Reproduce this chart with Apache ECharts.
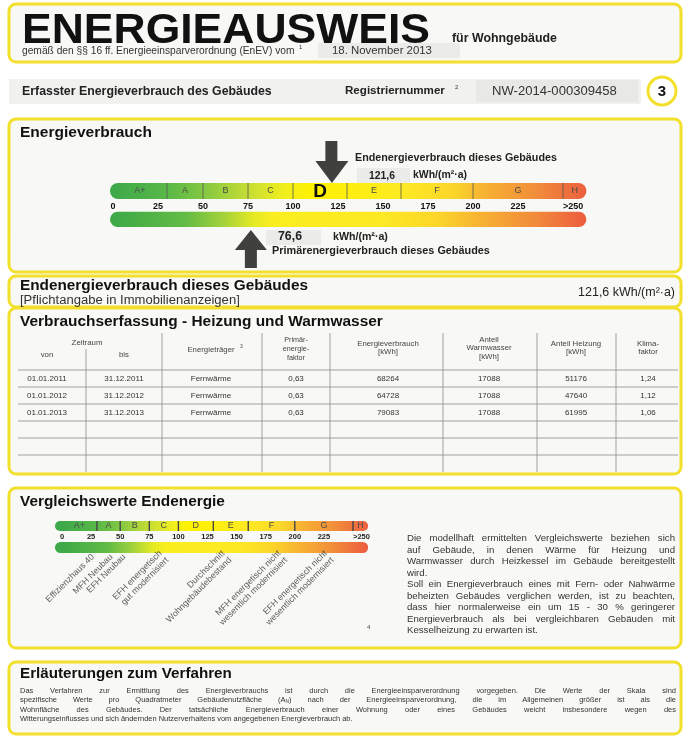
<!DOCTYPE html>
<html>
<head>
<meta charset="utf-8">
<script src="https://cdn.jsdelivr.net/npm/echarts@6/dist/echarts.min.js"></script>
<style>
html, body { margin: 0; padding: 0; background: #fff; }
#main { width: 685px; height: 742px; }
</style>
</head>
<body>
<div id="main"></div>
<script>
// Energieklassen und Skala
var klassen = ['A+', 'A', 'B', 'C', 'D', 'E', 'F', 'G', 'H'];
var klassenGrenzen = [0, 30, 50, 75, 100, 130, 160, 200, 250, 263];
var skalaTicks = [0, 25, 50, 75, 100, 125, 150, 175, 200, 225, 250];
var skalaBeschriftung = ['0', '25', '50', '75', '100', '125', '150', '175', '200', '225', '>250'];

// Kennwerte dieses Gebäudes
var endenergie = 121.6;
var primaerenergie = 76.6;

// Vergleichswerte Endenergie
var vergleichsNamen = [
    'Effizienzhaus 40',
    'MFH Neubau',
    'EFH Neubau',
    'EFH energetisch\ngut modernisiert',
    'Durchschnitt\nWohngebäudebestand',
    'MFH energetisch nicht\nwesentlich modernisiert',
    'EFH energetisch nicht\nwesentlich modernisiert'
];
var vergleichsWerte = [27, 43, 54, 88, 142, 190, 230];

// Verbrauchserfassung
var zeitraumVon = ['01.01.2011', '01.01.2012', '01.01.2013'];
var zeitraumBis = ['31.12.2011', '31.12.2012', '31.12.2013'];
var energietraeger = ['Fernwärme', 'Fernwärme', 'Fernwärme'];
var primaerFaktor = [0.63, 0.63, 0.63];
var verbrauchKWh = [68264, 64728, 79083];
var warmwasserKWh = [17088, 17088, 17088];
var heizungKWh = [51176, 47640, 61995];
var klimaFaktor = [1.24, 1.12, 1.06];

var FONT = '"Liberation Sans", Arial, sans-serif';
var GELB = '#f2e02c';

// Farbverlauf der Skala (Wert, Farbe)
var farbenOben = [[0, '#3ea94a'], [30, '#58b847'], [50, '#82c742'], [75, '#c6dd34'], [95, '#f0ee1e'],
    [110, '#fff200'], [160, '#fdea22'], [190, '#fbd52a'], [205, '#f7b432'], [235, '#f18d3a'], [263, '#ec5f3f']];
var farbenUnten = [[0, '#3da948'], [40, '#62bb45'], [60, '#9fd03c'], [78, '#e4ea24'], [90, '#fbee1e'],
    [150, '#fde924'], [180, '#fcd629'], [205, '#f7b133'], [235, '#f18a3b'], [263, '#ec5c3f']];

var aktiveKlasse = 0;
for (var k = 0; k < klassen.length; k++) {
    if (endenergie >= klassenGrenzen[k] && endenergie < klassenGrenzen[k + 1]) aktiveKlasse = k;
}

function komma(v, n) { return v.toFixed(n).replace('.', ','); }

// Textbreite messen
var mess = document.createElement('canvas').getContext('2d');
function breite(text, size, weight) {
    mess.font = (weight || 'normal') + ' ' + size + 'px ' + FONT;
    return mess.measureText(text).width;
}
function passend(text, w, weight) { return 20 * w / breite(text, 20, weight); }

var g = [];
function box(x, y, w, h) {
    g.push({ type: 'rect', z: 0, silent: true, shape: { x: x, y: y, width: w, height: h, r: 7 },
        style: { fill: '#f8f8f6', stroke: GELB, lineWidth: 3 } });
}
function flaeche(x, y, w, h, fill) {
    g.push({ type: 'rect', z: 1, silent: true, shape: { x: x, y: y, width: w, height: h }, style: { fill: fill } });
}
function linie(x1, y1, x2, y2, c, w) {
    g.push({ type: 'line', z: 1, silent: true, shape: { x1: x1, y1: y1, x2: x2, y2: y2 },
        style: { stroke: c || '#8a8a8a', lineWidth: w || 0.8 } });
}
function txt(text, x, y, size, opt) {
    opt = opt || {};
    g.push({ type: 'text', z: 5, silent: true, x: x, y: y, scaleX: opt.sx || 1, style: {
        text: text, fontSize: size, fontFamily: FONT, fontWeight: opt.bold ? 'bold' : 'normal',
        fill: opt.color || '#1a1a1a', align: opt.align || 'left', verticalAlign: 'middle',
        lineHeight: opt.lh || size * 1.15 } });
}
function fit(text, x, y, w, bold, opt) {
    var s = passend(text, w, bold ? 'bold' : 'normal');
    opt = opt || {};
    opt.bold = bold;
    txt(text, x, y, s, opt);
    return s;
}

// Blocksatz
function wortBreite(w, size) {
    if (w.indexOf('_') >= 0) return breite('(A)', size) + breite('N', size * 0.65);
    return breite(w, size);
}
function blocksatz(absaetze, x0, x1, y0, dy, size, color) {
    var zeile = 0;
    absaetze.forEach(function (abs) {
        abs.forEach(function (z, i) {
            var y = y0 + zeile * dy;
            zeile++;
            var woerter = z.split(' ');
            var ws = woerter.map(function (w) { return wortBreite(w, size); });
            var summe = ws.reduce(function (a, b) { return a + b; }, 0);
            var luecke = (i === abs.length - 1 || woerter.length < 2) ? breite(' ', size) : (x1 - x0 - summe) / (woerter.length - 1);
            var x = x0;
            woerter.forEach(function (w, n) {
                if (w.indexOf('_') >= 0) {
                    g.push({ type: 'text', z: 5, silent: true, x: x, y: y, style: {
                        text: '{n|(A}{s|N}{n|)}', verticalAlign: 'middle', fill: color,
                        rich: { n: { fontSize: size, fontFamily: FONT, fill: color },
                                s: { fontSize: size * 0.65, fontFamily: FONT, fill: color, padding: [size * 0.45, 0, 0, 0] } } } });
                } else {
                    txt(w, x, y, size, { color: color });
                }
                x += ws[n] + luecke;
            });
        });
    });
}

// ---------- Kopf ----------
box(9, 4, 672, 58);
var sTitel = 42;
txt('ENERGIEAUSWEIS', 22, 31, sTitel, { bold: true, color: '#111', sx: 408 / breite('ENERGIEAUSWEIS', sTitel, 'bold') });
fit('für Wohngebäude', 452, 39, 105, true, { color: '#222' });
fit('gemäß den §§ 16 ff. Energieeinsparverordnung (EnEV) vom', 22, 51.5, 273, false, { color: '#333' });
txt('1', 299, 47.5, 6, { color: '#333' });
flaeche(318, 43, 142, 15, '#ebebe9');
fit('18. November 2013', 332, 51, 100, false, { color: '#333' });

flaeche(9, 79, 632, 25, '#f1f1ef');
fit('Erfasster Energieverbrauch des Gebäudes', 22, 92, 250, true, { color: '#222' });
fit('Registriernummer', 345, 91, 100, true, { color: '#222' });
txt('2', 455, 87, 6, { color: '#333' });
flaeche(476, 80, 162, 22, '#e8e8e6');
fit('NW-2014-000309458', 492, 91, 125, false, { color: '#333' });
g.push({ type: 'circle', z: 1, silent: true, shape: { cx: 662, cy: 91, r: 14 }, style: { fill: '#fff', stroke: GELB, lineWidth: 3 } });
txt('3', 662, 92, 15, { bold: true, align: 'center', color: '#111' });

// ---------- Energieverbrauch ----------
box(9, 119, 672, 153);
fit('Energieverbrauch', 20, 133, 132, true, { color: '#111' });
fit('Endenergieverbrauch dieses Gebäudes', 355, 158, 202, true, { color: '#222' });
flaeche(357, 168, 53, 15, '#ebebe9');
fit(komma(endenergie, 1), 369, 176, 26, true, { color: '#222' });
fit('kWh/(m²·a)', 413, 175, 54, true, { color: '#222' });
flaeche(266, 230, 55, 15, '#ebebe9');
fit(komma(primaerenergie, 1), 278, 237, 24, true, { color: '#222' });
fit('kWh/(m²·a)', 333, 237, 55, true, { color: '#222' });
fit('Primärenergieverbrauch dieses Gebäudes', 272, 251, 218, true, { color: '#222' });

// ---------- Endenergieverbrauch ----------
box(9, 276, 672, 31);
fit('Endenergieverbrauch dieses Gebäudes', 20, 286, 288, true, { color: '#111' });
fit('[Pflichtangabe in Immobilienanzeigen]', 20, 300, 220, false, { color: '#333' });
var s121 = passend(komma(endenergie, 1) + ' kWh/(m²·a)', 97);
txt(komma(endenergie, 1) + ' kWh/(m²·a)', 675, 293, s121, { align: 'right', color: '#222' });

// ---------- Verbrauchserfassung ----------
box(9, 308, 672, 166);
fit('Verbrauchserfassung - Heizung und Warmwasser', 20, 322, 363, true, { color: '#111' });
var spaltenMitte = [47, 124, 211, 296, 388, 489, 576, 648];
var spaltenTrenn = [86, 162, 262, 330, 443, 537, 616];
var zeilenLinien = [370, 387, 404, 421, 438, 455];
var zeilenMitte = [378.5, 395.5, 412.5];
spaltenTrenn.forEach(function (x, i) { linie(x, i === 0 ? 349 : 333, x, 472); });
zeilenLinien.forEach(function (y) { linie(18, y, 678, y); });
var kopf = { color: '#444', align: 'center', lh: 8.6 };
txt('Zeitraum', 87, 343, 7.8, kopf);
txt('von', spaltenMitte[0], 355, 7.8, kopf);
txt('bis', spaltenMitte[1], 355, 7.8, kopf);
txt('Energieträger', spaltenMitte[2], 350, 7.8, kopf);
txt('3', 240, 347, 5, { color: '#444' });
txt('Primär-\nenergie-\nfaktor', spaltenMitte[3], 349, 7.2, kopf);
txt('Energieverbrauch\n[kWh]', spaltenMitte[4], 348, 7.8, kopf);
txt('Anteil\nWarmwasser\n[kWh]', spaltenMitte[5], 348, 7.8, kopf);
txt('Anteil Heizung\n[kWh]', spaltenMitte[6], 348, 7.8, kopf);
txt('Klima-\nfaktor', spaltenMitte[7], 348, 7.8, kopf);
zeitraumVon.forEach(function (v, r) {
    var werte = [zeitraumVon[r], zeitraumBis[r], energietraeger[r], komma(primaerFaktor[r], 2),
        String(verbrauchKWh[r]), String(warmwasserKWh[r]), String(heizungKWh[r]), komma(klimaFaktor[r], 2)];
    werte.forEach(function (w, c) { txt(w, spaltenMitte[c], zeilenMitte[r], 8, { align: 'center', color: '#333' }); });
});

// ---------- Vergleichswerte ----------
box(9, 488, 672, 160);
fit('Vergleichswerte Endenergie', 20, 502, 205, true, { color: '#111' });
var sRechts = passend('Kesselheizung zu erwarten ist.', 131);
blocksatz([
    ['Die modellhaft ermittelten Vergleichswerte beziehen sich',
     'auf Gebäude, in denen Wärme für Heizung und',
     'Warmwasser durch Heizkessel im Gebäude bereitgestellt',
     'wird.'],
    ['Soll ein Energieverbrauch eines mit Fern- oder Nahwärme',
     'beheizten Gebäudes verglichen werden, ist zu beachten,',
     'dass hier normalerweise ein um 15 - 30 % geringerer',
     'Energieverbrauch als bei vergleichbaren Gebäuden mit',
     'Kesselheizung zu erwarten ist.']
], 407, 675, 538.5, 11.5, sRechts, '#333');
txt('4', 367, 627, 6, { color: '#444' });

// ---------- Erläuterungen ----------
box(9, 662, 672, 72);
fit('Erläuterungen zum Verfahren', 20, 674, 212, true, { color: '#111' });
var sUnten = passend('Witterungseinflusses und sich ändernden Nutzerverhaltens vom angegebenen Energieverbrauch ab.', 333);
blocksatz([[
    'Das Verfahren zur Ermittlung des Energieverbrauchs ist durch die Energieeinsparverordnung vorgegeben. Die Werte der Skala sind',
    'spezifische Werte pro Quadratmeter Gebäudenutzfläche (A_N) nach der Energieeinsparverordnung, die im Allgemeinen größer ist als die',
    'Wohnfläche des Gebäudes. Der tatsächliche Energieverbrauch einer Wohnung oder eines Gebäudes weicht insbesondere wegen des',
    'Witterungseinflusses und sich ändernden Nutzerverhaltens vom angegebenen Energieverbrauch ab.'
]], 20, 676, 690.5, 9.6, sUnten, '#333');

// ---------- Skalen ----------
function verlauf(api, stops, x0, x1) {
    return new echarts.graphic.LinearGradient(x0, 0, x1, 0, stops.map(function (s) {
        var px = api.coord([s[0], 0])[0];
        return { offset: Math.min(1, Math.max(0, (px - x0) / (x1 - x0))), color: s[1] };
    }), true);
}

function klassenBalken(cfg) {
    return function (params, api) {
        var i = api.value(2);
        var a = api.coord([api.value(0), 1]);
        var b = api.coord([api.value(1), 0]);
        var start = api.coord([klassenGrenzen[0], 0])[0] - cfg.pad;
        var ende = api.coord([klassenGrenzen[klassenGrenzen.length - 1], 0])[0];
        var x0 = i === 0 ? start : a[0];
        var h = b[1] - a[1];
        var r = h / 2;
        var radius = i === 0 ? [r, 0, 0, r] : (i === klassen.length - 1 ? [0, r, r, 0] : 0);
        var kinder = [{ type: 'rect', shape: { x: x0, y: a[1], width: b[0] - x0, height: h, r: radius },
            style: { fill: verlauf(api, farbenOben, start, ende) } }];
        if (i > 0) {
            kinder.push({ type: 'line', shape: { x1: a[0], y1: a[1], x2: a[0], y2: b[1] },
                style: { stroke: cfg.trenn, lineWidth: cfg.trennBreite } });
        }
        var gross = cfg.markiere && i === aktiveKlasse;
        kinder.push({ type: 'text', x: (a[0] + b[0]) / 2, y: (a[1] + b[1]) / 2 + (gross ? 1 : 0), style: {
            text: klassen[i], align: 'center', verticalAlign: 'middle', fontFamily: FONT,
            fontSize: gross ? 19 : cfg.schrift, fontWeight: gross ? 'bold' : 'normal',
            fill: gross ? '#111' : '#4a4a4a' } });
        return { type: 'group', children: kinder };
    };
}

function verlaufBalken(cfg) {
    return function (params, api) {
        var a = api.coord([api.value(0), cfg.y0]);
        var b = api.coord([api.value(1), cfg.y1]);
        var x0 = a[0] - cfg.pad;
        var h = b[1] - a[1];
        return { type: 'rect', shape: { x: x0, y: a[1], width: b[0] - x0, height: h, r: h / 2 },
            style: { fill: verlauf(api, farbenUnten, x0, b[0]) } };
    };
}

var klassenDaten = klassen.map(function (kl, i) { return [klassenGrenzen[i], klassenGrenzen[i + 1], i]; });
var skalaDaten = [[klassenGrenzen[0], klassenGrenzen[klassenGrenzen.length - 1]]];

function tickFormat(v) {
    var i = skalaTicks.indexOf(v);
    return i < 0 ? '' : skalaBeschriftung[i];
}

var pfeilRunter = 'path://M10,0 L22,0 L22,20 L33,20 L16.5,42 L0,20 L10,20 Z';
var pfeilHoch = 'path://M16,0 L32,20 L22,20 L22,38 L10,38 L10,20 L0,20 Z';

var chart = echarts.init(document.getElementById('main'));
var option = {
    animation: false,
    graphic: { elements: g },
    grid: [
        { left: 113, top: 183, width: 450, height: 16 },
        { left: 62, top: 521, width: 291, height: 10 }
    ],
    xAxis: [
        { gridIndex: 0, type: 'value', min: 0, max: 250, interval: 25,
          axisLine: { show: false }, axisTick: { show: false }, splitLine: { show: false },
          axisLabel: { margin: 3, fontSize: 9, fontWeight: 'bold', color: '#111', fontFamily: FONT,
                       formatter: tickFormat, alignMaxLabel: 'left' } },
        { gridIndex: 1, type: 'value', min: 0, max: 250, interval: 25,
          axisLine: { show: false }, axisTick: { show: false }, splitLine: { show: false },
          axisLabel: { margin: 2, fontSize: 7.5, fontWeight: 'bold', color: '#222', fontFamily: FONT,
                       formatter: tickFormat, alignMaxLabel: 'left' } }
    ],
    yAxis: [
        { gridIndex: 0, type: 'value', min: 0, max: 1, show: false },
        { gridIndex: 1, type: 'value', min: 0, max: 1, show: false }
    ],
    series: [
        { type: 'custom', xAxisIndex: 0, yAxisIndex: 0, clip: false, silent: true, data: klassenDaten,
          renderItem: klassenBalken({ pad: 3, trenn: '#555', trennBreite: 0.8, schrift: 9, markiere: true }) },
        { type: 'custom', xAxisIndex: 0, yAxisIndex: 0, clip: false, silent: true, data: skalaDaten,
          renderItem: verlaufBalken({ pad: 3, y0: -0.8, y1: -1.75 }) },
        { type: 'scatter', xAxisIndex: 0, yAxisIndex: 0, clip: false, silent: true, z: 5,
          symbol: pfeilRunter, symbolSize: [33, 42], symbolOffset: [0, -21], itemStyle: { color: '#111' },
          data: [[endenergie, 1]] },
        { type: 'scatter', xAxisIndex: 0, yAxisIndex: 0, clip: false, silent: true, z: 5,
          symbol: pfeilHoch, symbolSize: [32, 38], symbolOffset: [0, 22], itemStyle: { color: '#111' },
          data: [[primaerenergie, -1.75]] },
        { type: 'custom', xAxisIndex: 1, yAxisIndex: 1, clip: false, silent: true, data: klassenDaten,
          renderItem: klassenBalken({ pad: 7, trenn: '#444', trennBreite: 1.4, schrift: 9, markiere: false }) },
        { type: 'custom', xAxisIndex: 1, yAxisIndex: 1, clip: false, silent: true, data: skalaDaten,
          renderItem: verlaufBalken({ pad: 7, y0: -1.1, y1: -2.2 }) },
        { type: 'scatter', xAxisIndex: 1, yAxisIndex: 1, clip: false, silent: true,
          symbolSize: 1, itemStyle: { color: 'rgba(0,0,0,0)' },
          data: vergleichsWerte.map(function (v, i) { return { value: [v, -2.5], name: vergleichsNamen[i] }; }),
          label: { show: true, position: [0, 0], rotate: 45, align: 'right', verticalAlign: 'middle',
                   formatter: '{b}', fontFamily: FONT, fontSize: 8.8, lineHeight: 9.5, color: '#333' } }
    ]
};
chart.setOption(option);
</script>
</body>
</html>
